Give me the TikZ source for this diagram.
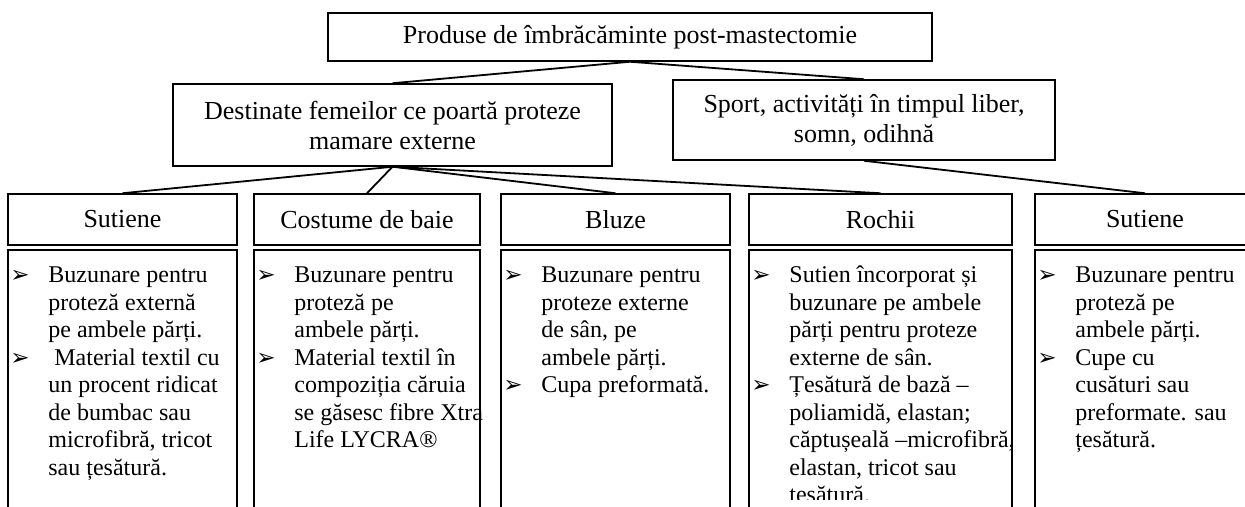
\documentclass[tikz,border=0pt]{standalone}
\usepackage{fontspec}
\setmainfont{Liberation Serif}
\newfontfamily\symfont{DejaVu Sans}
\newcommand{\itm}{\llap{\makebox[20pt][l]{\hspace{1pt}{\symfont\fontsize{11.5}{12}\selectfont ➢}}}\strut}
\tikzset{
    RB/.style ={rectangle, draw, line width=0.75pt, inner sep=0pt, align=center, font=\fontsize{13}{15}\selectfont},
    HB/.style ={RB, minimum height=25.5pt},
    CB/.style ={RB, minimum height=140pt},
    TX/.style ={anchor=north west, inner sep=0pt, align=left, font=\fontsize{12}{13.75}\selectfont},
    LN/.style ={line width=0.9pt}}
\begin{document}
\begin{tikzpicture}[x=0.5pt,y=-0.5pt]
        \useasboundingbox (0,0) rectangle (1245,507);
        \node[RB,minimum width=302pt,minimum height=24pt] (1) at(630,37){Produse de îmbrăcăminte post-mastectomie};
        \node[RB,minimum width=219.5pt,minimum height=41pt] (2) at(392.5,125){Destinate femeilor ce poartă proteze\\mamare externe};
        \node[RB,minimum width=191pt,minimum height=40pt] (3) at(864,120){Sport, activități în timpul liber,\\somn, odihnă};
        \node[HB,minimum width=114.5pt] (4) at(122.5,219.5){Sutiene};
        \node[HB,minimum width=113pt] (5) at(367,219.5){Costume de baie};
        \node[HB,minimum width=114.5pt] (6) at(615.5,219.5){Bluze};
        \node[HB,minimum width=131.5pt] (7) at(880.5,219.5){Rochii};
        \node[HB,minimum width=110pt] (8) at(1145,219.5){Sutiene};
        \node[CB,minimum width=114.5pt] (9) at(122.5,390){};
        \node[CB,minimum width=113pt] (10) at(367,390){};
        \node[CB,minimum width=114.5pt] (11) at(615.5,390){};
        \node[CB,minimum width=131.5pt] (12) at(880.5,390){};
        \node[CB,minimum width=110pt] (13) at(1145,390){};
        \draw[LN] (1.south) --(2.north);
        \draw[LN] (1.south) --(3.north);
        \draw[LN] (2.south) --(4.north);
        \draw[LN] (2.south) --(5.north);
        \draw[LN] (2.south) --(6.north);
        \draw[LN] (2.south) --(7.north);
        \draw[LN] (3.south) --(8.north);
    \begin{scope}
        \clip (0,0) rectangle (1245,499);
        \node[TX] (14) at(48,263){\itm Buzunare pentru\\proteză externă\\pe ambele părți.\\
            \itm\hspace{3pt}Material textil cu\\un procent ridicat\\de bumbac sau\\microfibră, tricot\\sau țesătură.};
        \node[TX] (15) at(294,263){\itm Buzunare pentru\\proteză pe\\ambele părți.\\
            \itm Material textil în\\compoziția căruia\\se găsesc fibre Xtra\\Life LYCRA®};
        \node[TX] (16) at(541,263){\itm Buzunare pentru\\proteze externe\\de sân, pe\\ambele părți.\\
            \itm Cupa preformată.};
        \node[TX] (17) at(789,263){\itm Sutien încorporat și\\buzunare pe ambele\\părți pentru proteze\\externe de sân.\\
            \itm Țesătură de bază –\\poliamidă, elastan;\\căptușeală –microfibră,\\elastan, tricot sau\\țesătură.};
        \node[TX] (18) at(1075,263){\itm Buzunare pentru\\proteză pe\\ambele părți.\\
            \itm Cupe cu\\cusături sau\\preformate. sau\\țesătură.};
    \end{scope}
    \end{tikzpicture}
\end{document}
